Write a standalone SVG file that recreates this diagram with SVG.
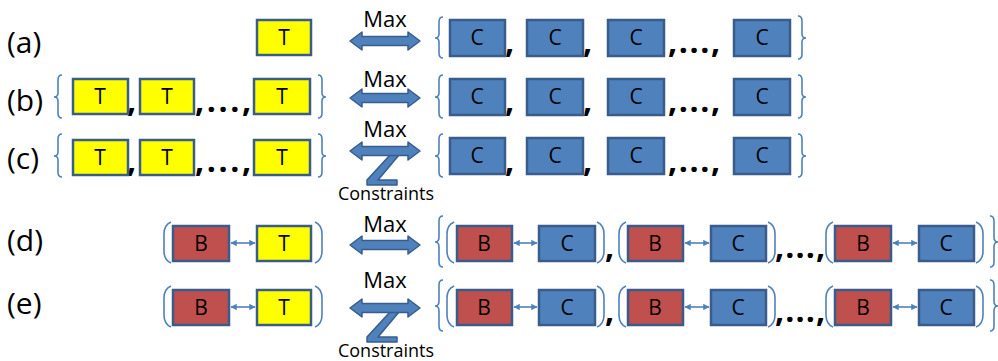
<svg xmlns="http://www.w3.org/2000/svg" width="998" height="361" viewBox="0 0 998 361">
<style>
  text { font-family: "Open Sans", "Noto Sans", "Liberation Sans", sans-serif; fill: #000; }
  .lbl { font-size: 30px; }
  .box { stroke: #385D8A; stroke-width: 2.5; }
  .t { fill: #FFFF00; }
  .c { fill: #4F81BD; }
  .b { fill: #C0504D; }
  .bt { font-size: 21px; text-anchor: middle; }
  .cm { font-size: 32px; font-weight: bold; }
  .br { fill: none; stroke: #4F81BD; stroke-width: 1.6; }
  .big { fill: #4F81BD; stroke: #385D8A; stroke-width: 1.5; stroke-linejoin: round; }
  .max { font-size: 22px; text-anchor: middle; }
  .con { font-size: 18px; text-anchor: middle; }
  .sm { stroke: #4F81BD; stroke-width: 1.6; fill: none; marker-start: url(#ah); marker-end: url(#ah); }
</style>
<defs>
  <marker id="ah" viewBox="0 0 10 10" refX="9" refY="5" markerWidth="4" markerHeight="4" orient="auto-start-reverse" markerUnits="strokeWidth">
    <path d="M0,0 L10,5 L0,10 z" fill="#4F81BD"/>
  </marker>
  <path id="bigarrow" class="big" d="M0,0 L12,-9 L12,-4.5 L58,-4.5 L58,-9 L70,0 L58,9 L58,4.5 L12,4.5 L12,9 z"/>
  <path id="zarrow" class="big" d="M40,4 L49,4 L28,29 L47,29 L47,34 L17,34 L17,29 z"/>
</defs>

<!-- row labels -->
<text class="lbl" x="7" y="53">(a)</text>
<text class="lbl" x="7" y="111">(b)</text>
<text class="lbl" x="7" y="169">(c)</text>
<text class="lbl" x="7" y="251">(d)</text>
<text class="lbl" x="7" y="314">(e)</text>

<!-- braces, parens and commas -->
<g id="punctuation">
  <!-- row a -->
  <path class="br" d="M443,17 Q439,17 439,22 L439,34 Q439,38 435,38 Q439,38 439,42 L439,53 Q439,58 443,58"/>
  <path class="br" d="M798,16 Q802,16 802,21 L802,34 Q802,38 806,38 Q802,38 802,42 L802,54 Q802,59 798,59"/>
  <text class="cm" x="505" y="53">,</text>
  <text class="cm" x="583" y="53">,</text>
  <text class="cm" x="668" y="53" textLength="52" lengthAdjust="spacing">,...,</text>
  <!-- row b -->
  <path class="br" d="M62,75 Q58,75 58,80 L58,93 Q58,97 54,97 Q58,97 58,101 L58,113 Q58,118 62,118"/>
  <path class="br" d="M318,75 Q322,75 322,80 L322,93 Q322,97 326,97 Q322,97 322,101 L322,113 Q322,118 318,118"/>
  <text class="cm" x="127" y="112">,</text>
  <text class="cm" x="195" y="112" textLength="56" lengthAdjust="spacing">,...,</text>
  <path class="br" d="M443,75 Q439,75 439,80 L439,93 Q439,97 435,97 Q439,97 439,101 L439,113 Q439,118 443,118"/>
  <path class="br" d="M798,75 Q802,75 802,80 L802,93 Q802,97 806,97 Q802,97 802,101 L802,113 Q802,118 798,118"/>
  <text class="cm" x="505" y="112">,</text>
  <text class="cm" x="583" y="112">,</text>
  <text class="cm" x="668" y="112" textLength="52" lengthAdjust="spacing">,...,</text>
  <!-- row c -->
  <path class="br" d="M62,134 Q58,134 58,139 L58,152 Q58,156 54,156 Q58,156 58,160 L58,172 Q58,177 62,177"/>
  <path class="br" d="M318,134 Q322,134 322,139 L322,152 Q322,156 326,156 Q322,156 322,160 L322,172 Q322,177 318,177"/>
  <text class="cm" x="127" y="172">,</text>
  <text class="cm" x="195" y="172" textLength="56" lengthAdjust="spacing">,...,</text>
  <path class="br" d="M443,134 Q439,134 439,139 L439,152 Q439,156 435,156 Q439,156 439,160 L439,172 Q439,177 443,177"/>
  <path class="br" d="M798,134 Q802,134 802,139 L802,152 Q802,156 806,156 Q802,156 802,160 L802,172 Q802,177 798,177"/>
  <text class="cm" x="505" y="172">,</text>
  <text class="cm" x="583" y="172">,</text>
  <text class="cm" x="668" y="172" textLength="52" lengthAdjust="spacing">,...,</text>
  <!-- row d -->
  <path class="br" d="M171,222 Q164,225 164,234 L164,251 Q164,260 171,263"/>
  <path class="br" d="M315,222 Q322,225 322,234 L322,251 Q322,260 315,263"/>
  <path class="br" d="M443,216 Q439,216 439,221 L439,237 Q439,242 435,242 Q439,242 439,247 L439,262 Q439,267 443,267"/>
  <path class="br" d="M454,222 Q447,225 447,234 L447,251 Q447,260 454,263"/>
  <path class="br" d="M597,222 Q604,225 604,234 L604,251 Q604,260 597,263"/>
  <text class="cm" x="605" y="258">,</text>
  <path class="br" d="M626,222 Q619,225 619,234 L619,251 Q619,260 626,263"/>
  <path class="br" d="M768,222 Q775,225 775,234 L775,251 Q775,260 768,263"/>
  <text class="cm" x="775" y="258" textLength="50" lengthAdjust="spacing">,...,</text>
  <path class="br" d="M833,222 Q826,225 826,234 L826,251 Q826,260 833,263"/>
  <path class="br" d="M976,222 Q983,225 983,234 L983,251 Q983,260 976,263"/>
  <path class="br" d="M990,216 Q994,216 994,221 L994,237 Q994,242 998,242 Q994,242 994,247 L994,262 Q994,267 990,267"/>
  <!-- row e -->
  <path class="br" d="M171,286 Q164,289 164,298 L164,315 Q164,324 171,327"/>
  <path class="br" d="M315,286 Q322,289 322,298 L322,315 Q322,324 315,327"/>
  <path class="br" d="M443,280 Q439,280 439,285 L439,301 Q439,306 435,306 Q439,306 439,311 L439,326 Q439,331 443,331"/>
  <path class="br" d="M454,286 Q447,289 447,298 L447,315 Q447,324 454,327"/>
  <path class="br" d="M597,286 Q604,289 604,298 L604,315 Q604,324 597,327"/>
  <text class="cm" x="605" y="322">,</text>
  <path class="br" d="M626,286 Q619,289 619,298 L619,315 Q619,324 626,327"/>
  <path class="br" d="M768,286 Q775,289 775,298 L775,315 Q775,324 768,327"/>
  <text class="cm" x="775" y="322" textLength="50" lengthAdjust="spacing">,...,</text>
  <path class="br" d="M833,286 Q826,289 826,298 L826,315 Q826,324 833,327"/>
  <path class="br" d="M976,286 Q983,289 983,298 L983,315 Q983,324 976,327"/>
  <path class="br" d="M990,280 Q994,280 994,285 L994,301 Q994,306 998,306 Q994,306 994,311 L994,326 Q994,331 990,331"/>
</g>

<!-- connectors -->
<g id="connectors">
  <use href="#bigarrow" x="350" y="41"/>
  <use href="#bigarrow" x="350" y="98"/>
  <use href="#zarrow" x="350" y="151"/>
  <use href="#bigarrow" x="350" y="151"/>
  <use href="#bigarrow" x="350" y="245"/>
  <use href="#zarrow" x="350" y="308"/>
  <use href="#bigarrow" x="350" y="308"/>
  <text class="max" x="385" y="27">Max</text>
  <text class="max" x="385" y="87">Max</text>
  <text class="max" x="385" y="137">Max</text>
  <text class="max" x="385" y="232">Max</text>
  <text class="max" x="385" y="288">Max</text>
  <text class="con" x="386" y="200">Constraints</text>
  <text class="con" x="386" y="357">Constraints</text>
  <!-- small B<->T / B<->C arrows -->
  <line class="sm" x1="231" y1="243" x2="255" y2="243"/>
  <line class="sm" x1="514" y1="243" x2="537" y2="243"/>
  <line class="sm" x1="685" y1="243" x2="709" y2="243"/>
  <line class="sm" x1="893" y1="243" x2="917" y2="243"/>
  <line class="sm" x1="231" y1="307" x2="255" y2="307"/>
  <line class="sm" x1="514" y1="307" x2="537" y2="307"/>
  <line class="sm" x1="685" y1="307" x2="709" y2="307"/>
  <line class="sm" x1="893" y1="307" x2="917" y2="307"/>
</g>

<!-- row a nodes -->
<g id="a-T"><rect class="box t" x="257" y="20" width="54" height="35"/><text class="bt" x="284" y="45">T</text></g>
<g id="a-C1"><rect class="box c" x="450" y="20" width="55" height="36"/><text class="bt" x="477" y="45">C</text></g>
<g id="a-C2"><rect class="box c" x="527" y="20" width="56" height="36"/><text class="bt" x="555" y="45">C</text></g>
<g id="a-C3"><rect class="box c" x="608" y="20" width="56" height="36"/><text class="bt" x="636" y="45">C</text></g>
<g id="a-C4"><rect class="box c" x="734" y="20" width="56" height="36"/><text class="bt" x="762" y="45">C</text></g>

<!-- row b nodes -->
<g id="b-T1"><rect class="box t" x="73" y="79" width="55" height="35"/><text class="bt" x="100" y="104">T</text></g>
<g id="b-T2"><rect class="box t" x="140" y="79" width="54" height="35"/><text class="bt" x="167" y="104">T</text></g>
<g id="b-T3"><rect class="box t" x="254" y="79" width="56" height="35"/><text class="bt" x="282" y="104">T</text></g>
<g id="b-C1"><rect class="box c" x="450" y="79" width="55" height="36"/><text class="bt" x="477" y="104">C</text></g>
<g id="b-C2"><rect class="box c" x="527" y="79" width="56" height="36"/><text class="bt" x="555" y="104">C</text></g>
<g id="b-C3"><rect class="box c" x="608" y="79" width="56" height="36"/><text class="bt" x="636" y="104">C</text></g>
<g id="b-C4"><rect class="box c" x="734" y="79" width="56" height="36"/><text class="bt" x="762" y="104">C</text></g>

<!-- row c nodes -->
<g id="c-T1"><rect class="box t" x="73" y="140" width="55" height="35"/><text class="bt" x="100" y="165">T</text></g>
<g id="c-T2"><rect class="box t" x="140" y="140" width="54" height="35"/><text class="bt" x="167" y="165">T</text></g>
<g id="c-T3"><rect class="box t" x="254" y="140" width="56" height="35"/><text class="bt" x="282" y="165">T</text></g>
<g id="c-C1"><rect class="box c" x="450" y="138" width="55" height="36"/><text class="bt" x="477" y="163">C</text></g>
<g id="c-C2"><rect class="box c" x="527" y="138" width="56" height="36"/><text class="bt" x="555" y="163">C</text></g>
<g id="c-C3"><rect class="box c" x="608" y="138" width="56" height="36"/><text class="bt" x="636" y="163">C</text></g>
<g id="c-C4"><rect class="box c" x="734" y="138" width="56" height="36"/><text class="bt" x="762" y="163">C</text></g>

<!-- row d nodes -->
<g id="d-B0"><rect class="box b" x="173" y="226" width="56" height="35"/><text class="bt" x="201" y="251">B</text></g>
<g id="d-T"><rect class="box t" x="257" y="226" width="54" height="35"/><text class="bt" x="284" y="251">T</text></g>
<g id="d-B1"><rect class="box b" x="457" y="226" width="55" height="35"/><text class="bt" x="484" y="251">B</text></g>
<g id="d-C1"><rect class="box c" x="539" y="226" width="56" height="35"/><text class="bt" x="567" y="251">C</text></g>
<g id="d-B2"><rect class="box b" x="628" y="226" width="55" height="35"/><text class="bt" x="655" y="251">B</text></g>
<g id="d-C2"><rect class="box c" x="711" y="226" width="55" height="35"/><text class="bt" x="738" y="251">C</text></g>
<g id="d-B3"><rect class="box b" x="835" y="226" width="56" height="35"/><text class="bt" x="863" y="251">B</text></g>
<g id="d-C3"><rect class="box c" x="919" y="226" width="55" height="35"/><text class="bt" x="946" y="251">C</text></g>

<!-- row e nodes -->
<g id="e-B0"><rect class="box b" x="173" y="290" width="56" height="35"/><text class="bt" x="201" y="315">B</text></g>
<g id="e-T"><rect class="box t" x="257" y="290" width="54" height="35"/><text class="bt" x="284" y="315">T</text></g>
<g id="e-B1"><rect class="box b" x="457" y="290" width="55" height="35"/><text class="bt" x="484" y="315">B</text></g>
<g id="e-C1"><rect class="box c" x="539" y="290" width="56" height="35"/><text class="bt" x="567" y="315">C</text></g>
<g id="e-B2"><rect class="box b" x="628" y="290" width="55" height="35"/><text class="bt" x="655" y="315">B</text></g>
<g id="e-C2"><rect class="box c" x="711" y="290" width="55" height="35"/><text class="bt" x="738" y="315">C</text></g>
<g id="e-B3"><rect class="box b" x="835" y="290" width="56" height="35"/><text class="bt" x="863" y="315">B</text></g>
<g id="e-C3"><rect class="box c" x="919" y="290" width="55" height="35"/><text class="bt" x="946" y="315">C</text></g>
</svg>
